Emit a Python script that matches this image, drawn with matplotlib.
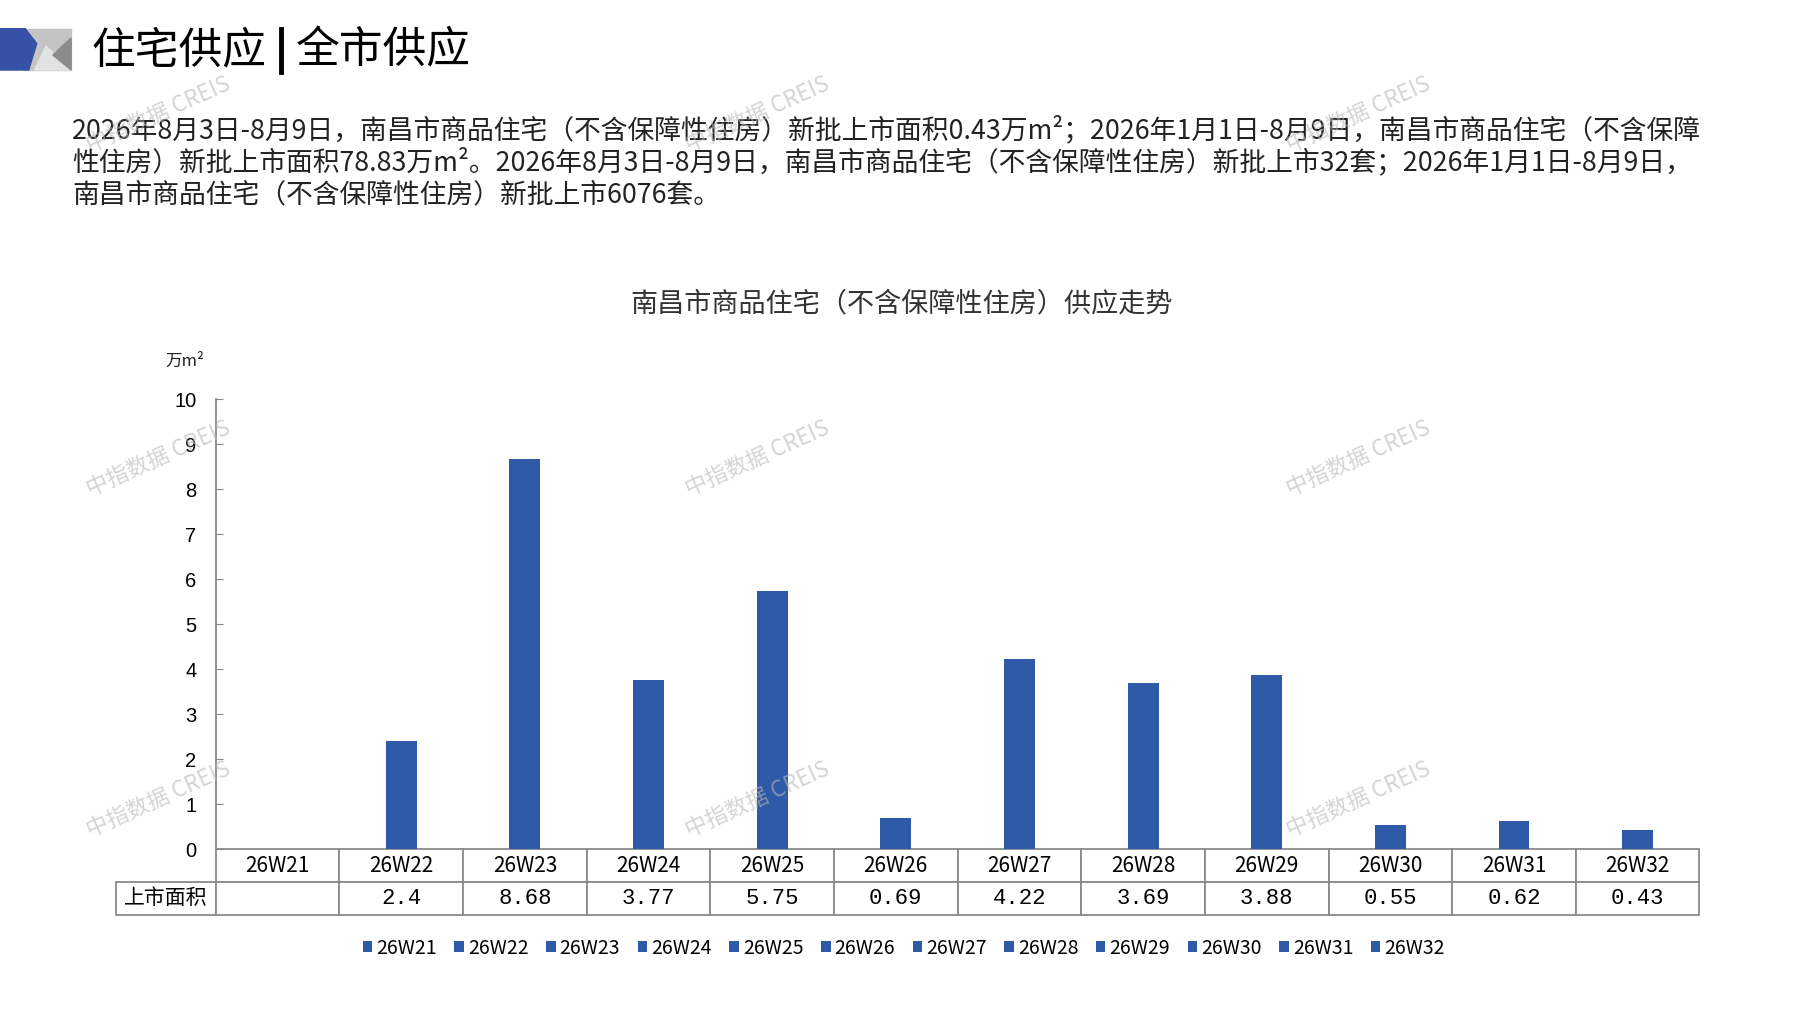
import matplotlib
matplotlib.use('Agg')
import matplotlib.pyplot as plt
from matplotlib.patches import Polygon
from matplotlib.lines import Line2D

plt.rcParams['font.family'] = ['Noto Sans CJK SC', 'DejaVu Sans']

weeks = ['26W21', '26W22', '26W23', '26W24', '26W25', '26W26',
         '26W27', '26W28', '26W29', '26W30', '26W31', '26W32']
area = [None, 2.4, 8.68, 3.77, 5.75, 0.69, 4.22, 3.69, 3.88, 0.55, 0.62, 0.43]
row_label = '上市面积'
y_ticks = list(range(0, 11))

header = '住宅供应'
header2 = '全市供应'
chart_title = '南昌市商品住宅（不含保障性住房）供应走势'
unit = '万m²'
para = ['2026年8月3日-8月9日，南昌市商品住宅（不含保障性住房）新批上市面积0.43万m²；2026年1月1日-8月9日，南昌市商品住宅（不含保障',
        '性住房）新批上市面积78.83万m²。2026年8月3日-8月9日，南昌市商品住宅（不含保障性住房）新批上市32套；2026年1月1日-8月9日，',
        '南昌市商品住宅（不含保障性住房）新批上市6076套。']

BLUE = '#2E5AA8'
NARROW = ['Liberation Sans Narrow', 'Noto Sans CJK SC']
W0, H0 = 1565.0, 880.0


def fx(x):
    return x / W0


def fy(y):
    return 1 - y / H0


fig = plt.figure(figsize=(17.97, 10.10), dpi=100)

# logo
fig.patches.append(Polygon([[fx(20), fy(25)], [fx(62), fy(25)], [fx(62), fy(61)], [fx(20), fy(61)]],
                           closed=True, transform=fig.transFigure, color='#c4c4c4'))
fig.patches.append(Polygon([[fx(30), fy(61)], [fx(40), fy(40)], [fx(62), fy(61)]],
                           closed=True, transform=fig.transFigure, color='#e2e2e2'))
fig.patches.append(Polygon([[fx(46), fy(48)], [fx(62), fy(33)], [fx(62), fy(61)]],
                           closed=True, transform=fig.transFigure, color='#8c8c8c'))
fig.patches.append(Polygon([[0, fy(25)], [fx(22), fy(25)], [fx(32), fy(38)], [fx(25), fy(61)], [0, fy(61)]],
                           closed=True, transform=fig.transFigure, color='#3651a5'))

fig.text(fx(80), fy(44), header, fontsize=31.5, va='center', ha='left')
fig.text(fx(258), fy(44), header2, fontsize=31.5, va='center', ha='left')
fig.add_artist(Line2D([fx(245), fx(245)], [fy(25), fy(63)], color='black', lw=3.5,
                      transform=fig.transFigure))

for i, line in enumerate(para):
    fig.text(fx(63), fy(113 + 28.5 * i), line, fontsize=19.3, va='center', ha='left', color='#222222')

fig.text(fx(785), fy(265), chart_title, fontsize=19.5, ha='center', va='center', color='#333333')
fig.text(fx(161), fy(315), unit, fontsize=12, ha='center', va='center', color='#222222')

ax = fig.add_axes([fx(188), fy(740), fx(1480) - fx(188), (740 - 348) / H0])
for i, w in enumerate(weeks):
    h = area[i] if area[i] is not None else 0
    ax.bar(i, h, width=0.25, color=BLUE, label=w, zorder=2)

ax.set_xlim(-0.5, len(weeks) - 0.5)
ax.set_ylim(0, 10)
ax.set_yticks(y_ticks)
ax.set_yticklabels([str(t) for t in y_ticks], fontsize=14.5, family=['Liberation Sans', 'DejaVu Sans'])
ax.tick_params(axis='y', direction='in', length=5, color='#888888', pad=14)
ax.tick_params(axis='x', bottom=False, labelbottom=False)
for s in ['top', 'right', 'bottom']:
    ax.spines[s].set_visible(False)
ax.spines['left'].set_color('#888888')
ax.spines['left'].set_linewidth(1.3)

# data table under the axis (bbox covers the week columns, row label sits to the left)
cell_text = [['' if v is None else str(v) for v in area]]
tab = ax.table(cellText=cell_text, rowLabels=[row_label], colLabels=weeks,
               colWidths=[1.0 / len(weeks)] * len(weeks),
               cellLoc='center', rowLoc='center',
               bbox=[0, -(797 - 740) / 392.0, 1, (797 - 740) / 392.0])
tab.auto_set_font_size(False)
tab[1, -1].set_width((188 - 100) / (1480 - 188))
for (r, c), cell in tab.get_celld().items():
    cell.set_edgecolor('#8a8a8a')
    cell.set_linewidth(1.3)
    txt = cell.get_text()
    if r == 0:
        txt.set_fontsize(15)
        txt.set_family(NARROW)
    elif c == -1:
        txt.set_fontsize(15)
    else:
        txt.set_fontsize(16)
        txt.set_family(['Liberation Mono', 'DejaVu Sans Mono'])

fig.legend(loc='center', bbox_to_anchor=(fx(787), fy(826)), ncol=len(weeks), frameon=False,
           handlelength=0.5, handleheight=0.5, handletextpad=0.2, columnspacing=0.9,
           prop={'family': NARROW, 'size': 14})

# watermarks
for wy in [100, 400, 697]:
    for wx in [138, 660, 1183]:
        fig.text(fx(wx), fy(wy), '中指数据 CREIS', fontsize=16, rotation=24, ha='center', va='center',
                 color='#b8b8b8', alpha=0.6, zorder=10)

fig.savefig('out.png', dpi=100)
